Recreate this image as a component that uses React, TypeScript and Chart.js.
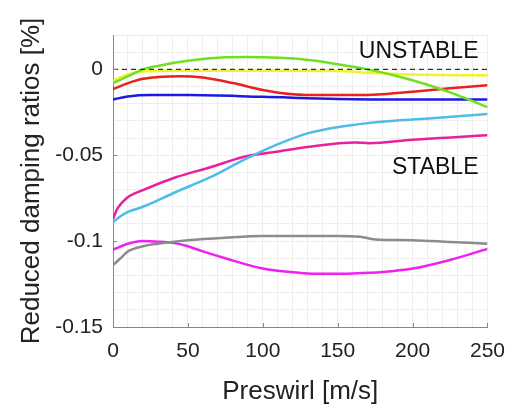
import React, { useEffect, useRef } from "react";
import { Chart, registerables } from "chart.js";
Chart.register(...registerables);

const greenX = [0, 10, 20, 30, 50, 75, 90, 100, 125, 150, 170, 190, 210, 230, 250];
const greenY = [-0.008, -0.004, 0, 0.002, 0.005, 0.007, 0.0072, 0.007, 0.006, 0.003, 0, -0.004, -0.009, -0.015, -0.022];

const yellowX = [0, 10, 20, 50, 100, 150, 170, 200, 250];
const yellowY = [-0.0065, -0.003, -0.0012, -0.0008, -0.0008, -0.001, -0.002, -0.003, -0.0035];

const redX = [0, 10, 20, 30, 45, 60, 80, 100, 120, 140, 160, 180, 200, 225, 250];
const redY = [-0.0115, -0.008, -0.0055, -0.0045, -0.004, -0.0048, -0.008, -0.012, -0.0145, -0.015, -0.015, -0.0145, -0.013, -0.011, -0.0093];

const blueX = [0, 10, 25, 50, 100, 150, 200, 250];
const blueY = [-0.0175, -0.0158, -0.015, -0.015, -0.016, -0.0172, -0.0175, -0.0175];

const cyanX = [0, 5, 10, 20, 42, 65, 87, 109, 131, 155, 177, 211, 250];
const cyanY = [-0.089, -0.0855, -0.083, -0.08, -0.0714, -0.0628, -0.0529, -0.044, -0.037, -0.033, -0.0306, -0.0286, -0.026];

const pinkX = [0, 3, 9, 20, 42, 65, 87, 109, 131, 162, 171, 200, 250];
const pinkY = [-0.087, -0.081, -0.075, -0.0703, -0.0628, -0.057, -0.051, -0.048, -0.045, -0.0426, -0.043, -0.041, -0.0384];

const grayX = [0, 5, 10, 20, 30, 50, 75, 100, 125, 150, 165, 175, 200, 225, 250];
const grayY = [-0.114, -0.11, -0.106, -0.103, -0.1015, -0.0995, -0.098, -0.097, -0.097, -0.097, -0.0975, -0.099, -0.0995, -0.1005, -0.1015];

const magentaX = [0, 10, 20, 30, 40, 50, 60, 75, 100, 125, 140, 160, 180, 200, 225, 250];
const magentaY = [-0.105, -0.1015, -0.1, -0.1003, -0.101, -0.103, -0.106, -0.11, -0.116, -0.1185, -0.119, -0.1188, -0.118, -0.116, -0.111, -0.1045];

const zeroX = [0, 250];
const zeroY = [0, 0];

const xTickLabels = ["0", "50", "100", "150", "200", "250"];
const yTickLabels = ["0", "-0.05", "-0.1", "-0.15"];

const pts = (xs: number[], ys: number[]) => xs.map((x, i) => ({ x, y: ys[i] }));

const FONT = "'Liberation Sans', Arial, sans-serif";

export default function App() {
  const ref = useRef<HTMLCanvasElement | null>(null);
  useEffect(() => {
    if (!ref.current) return;
    const line = (xs: number[], ys: number[], color: string, extra: any = {}) => ({
      data: pts(xs, ys),
      borderColor: color,
      backgroundColor: color,
      borderWidth: 2.5,
      pointRadius: 0,
      tension: 0.4,
      cubicInterpolationMode: "monotone",
      fill: false,
      ...extra,
    });
    const textPlugin = {
      id: "labels",
      afterDatasetsDraw(chart: any) {
        const { ctx, scales } = chart;
        ctx.save();
        ctx.fillStyle = "#111";
        ctx.font = `23px ${FONT}`;
        ctx.textAlign = "right";
        ctx.textBaseline = "middle";
        ctx.fillText("UNSTABLE", scales.x.getPixelForValue(244), scales.y.getPixelForValue(0.0105));
        ctx.fillText("STABLE", scales.x.getPixelForValue(244), scales.y.getPixelForValue(-0.057));
        ctx.strokeStyle = "#888";
        ctx.lineWidth = 1;
        const yb = scales.y.bottom;
        xTickLabels.forEach((t) => {
          const px = Math.round(scales.x.getPixelForValue(Number(t))) + 0.5;
          ctx.beginPath();
          ctx.moveTo(px, yb);
          ctx.lineTo(px, yb - 4);
          ctx.stroke();
        });
        const xl = scales.x.left;
        yTickLabels.forEach((t) => {
          const py = Math.round(scales.y.getPixelForValue(Number(t))) + 0.5;
          ctx.beginPath();
          ctx.moveTo(xl, py);
          ctx.lineTo(xl + 4, py);
          ctx.stroke();
        });
        ctx.restore();
      },
    };
    const chart = new Chart(ref.current, {
      type: "line",
      data: {
        datasets: [
          line(zeroX, zeroY, "#333", { borderWidth: 1.3, borderDash: [5, 4], tension: 0 }),
          line(greenX, greenY, "#6fe020"),
          line(yellowX, yellowY, "#f2f22a"),
          line(redX, redY, "#e8231c"),
          line(blueX, blueY, "#1a1ae0"),
          line(cyanX, cyanY, "#4fbbea"),
          line(pinkX, pinkY, "#e8209c"),
          line(grayX, grayY, "#8c8c8c"),
          line(magentaX, magentaY, "#f020f0"),
        ] as any,
      },
      options: {
        animation: false,
        responsive: false,
        maintainAspectRatio: false,
        layout: { padding: { top: 35, right: 28, left: 8, bottom: 0 } },
        plugins: { legend: { display: false }, tooltip: { enabled: false } },
        scales: {
          x: {
            type: "linear",
            min: 0,
            max: 250,
            afterFit: (s: any) => {
              s.height = 81;
            },
            ticks: {
              stepSize: 10,
              autoSkip: false,
              maxRotation: 0,
              padding: 12,
              color: "#222",
              font: { family: FONT, size: 21 },
              callback: (v: any) => {
                const n = Math.round(Number(v));
                return xTickLabels.includes(String(n)) ? String(n) : "";
              },
            },
            grid: { color: "#eeeeee", lineWidth: 1, tickLength: 0, drawTicks: false },
            border: { display: true, color: "#888", width: 1 },
            title: {
              display: true,
              text: "Preswirl [m/s]",
              color: "#222",
              font: { family: FONT, size: 26 },
              padding: { top: 0, bottom: 1 },
            },
          },
          y: {
            type: "linear",
            min: -0.15,
            max: 0.02,
            afterFit: (s: any) => {
              s.width = 105;
            },
            ticks: {
              stepSize: 0.01,
              autoSkip: false,
              padding: 10,
              color: "#222",
              font: { family: FONT, size: 21 },
              callback: (v: any) => {
                const n = Math.round(Number(v) * 100) / 100;
                const s = n === 0 ? "0" : String(n);
                return yTickLabels.includes(s) ? s : "";
              },
            },
            grid: { color: "#eeeeee", lineWidth: 1, tickLength: 0, drawTicks: false },
            border: { display: true, color: "#888", width: 1 },
            title: {
              display: true,
              text: "Reduced damping ratios [%]",
              color: "#222",
              font: { family: FONT, size: 26 },
              padding: { top: 8, bottom: 0 },
            },
          },
        },
      } as any,
      plugins: [textPlugin],
    });
    return () => chart.destroy();
  }, []);
  return (
    <div style={{ position: "absolute", left: 0, top: 0, width: 517, height: 408, background: "#fff" }}>
      <canvas ref={ref} width={517} height={408} style={{ display: "block" }} />
    </div>
  );
}
